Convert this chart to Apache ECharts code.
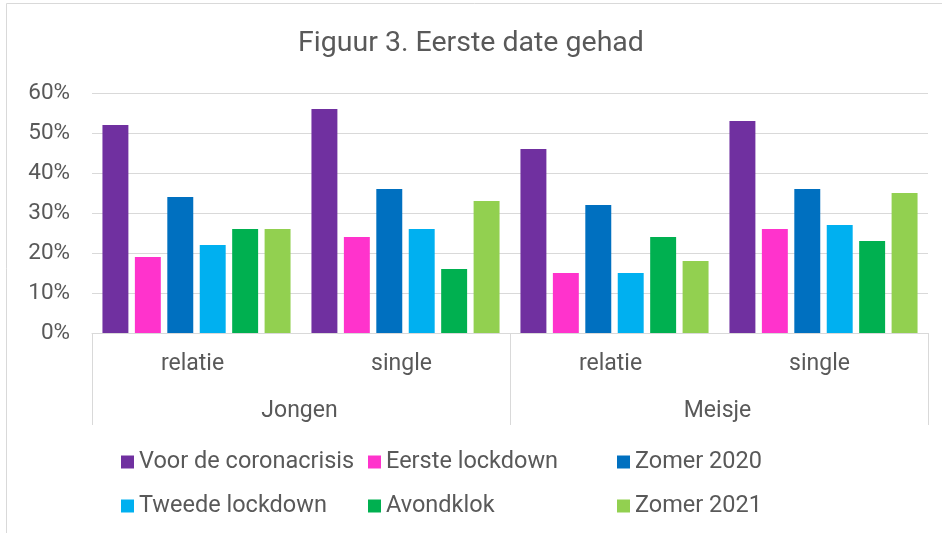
<!DOCTYPE html>
<html>
<head>
<meta charset="utf-8">
<script src="https://cdn.jsdelivr.net/npm/echarts@6/dist/echarts.min.js"></script>
<style>
  html, body { margin: 0; padding: 0; background: #fff; }
  #chart { width: 942px; height: 533px; }
</style>
</head>
<body>
<div id="chart"></div>
<script>
// categorieen
var subCats = ['relatie', 'single', 'relatie', 'single'];
var mainCats = ['Jongen', 'Meisje'];
var seriesNames = ['Voor de coronacrisis', 'Eerste lockdown', 'Zomer 2020', 'Tweede lockdown', 'Avondklok', 'Zomer 2021'];

// waarden in procenten
var voorCorona = [52, 56, 46, 53];
var eersteLockdown = [19, 24, 15, 26];
var zomer2020 = [34, 36, 32, 36];
var tweedeLockdown = [22, 26, 15, 27];
var avondklok = [26, 16, 24, 23];
var zomer2021 = [26, 33, 18, 35];

var yTicks = [0, 10, 20, 30, 40, 50, 60];

var colors = ['#7030A0', '#FF33CC', '#0070C0', '#00B0F0', '#00B050', '#92D050'];
var values = [voorCorona, eersteLockdown, zomer2020, tweedeLockdown, avondklok, zomer2021];

// legenda posities (3 kolommen, 2 rijen)
var legendLeft = [121, 368, 617, 121, 368, 617];
var legendTop = [448, 448, 448, 492, 492, 492];

var txt = '#595959';
var font = 'Roboto';

var chart = echarts.init(document.getElementById('chart'));

var legends = [];
var series = [];
for (var i = 0; i < seriesNames.length; i++) {
	legends.push({
		data: [seriesNames[i]],
		left: legendLeft[i],
		top: legendTop[i],
		padding: 0,
		icon: 'rect',
		itemWidth: 13,
		itemHeight: 13,
		selectedMode: false,
		textStyle: { color: txt, fontSize: 23.5, fontFamily: font, lineHeight: 28 }
	});
	series.push({
		name: seriesNames[i],
		type: 'bar',
		xAxisIndex: 0,
		data: values[i],
		barGap: '25%',
		barCategoryGap: '10%',
		itemStyle: { color: colors[i] }
	});
}

var option = {
	animation: false,
	textStyle: { fontFamily: font },
	title: {
		text: 'Figuur 3. Eerste date gehad',
		left: 'center',
		top: 29,
		padding: 0,
		textStyle: { color: txt, fontSize: 28.5, fontWeight: 'normal', fontFamily: font }
	},
	graphic: [{
		type: 'rect',
		shape: { x: 6.5, y: 3.5, width: 980, height: 600 },
		style: { fill: 'none', stroke: '#d9d9d9', lineWidth: 1 },
		silent: true
	}],
	legend: legends,
	grid: { left: 92, right: 14, top: 93, bottom: 200 },
	xAxis: [{
		type: 'category',
		position: 'bottom',
		data: subCats,
		axisLine: { lineStyle: { color: '#d9d9d9', width: 1 } },
		axisTick: { show: false },
		axisLabel: { color: txt, fontSize: 23, fontFamily: font, margin: 20, interval: 0, padding: [0, 8, 0, 0] }
	}, {
		type: 'category',
		position: 'bottom',
		data: mainCats,
		axisLine: { show: false },
		axisTick: { show: true, length: 92, interval: 0, lineStyle: { color: '#d9d9d9', width: 1 } },
		axisLabel: { color: txt, fontSize: 23, fontFamily: font, margin: 67, interval: 0, padding: [0, 3, 0, 0] },
		splitLine: { show: false }
	}],
	yAxis: {
		type: 'value',
		min: yTicks[0],
		max: yTicks[yTicks.length - 1],
		interval: 10,
		axisLine: { show: false },
		axisTick: { show: false },
		splitLine: { lineStyle: { color: '#d9d9d9', width: 1 } },
		axisLabel: { color: txt, fontSize: 22.5, fontFamily: font, margin: 22, formatter: '{value}%' }
	},
	series: series
};

chart.setOption(option);
</script>
</body>
</html>
